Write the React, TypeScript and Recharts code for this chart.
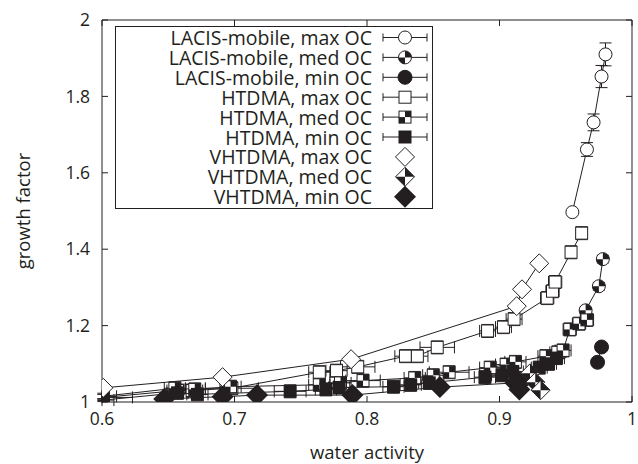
import React from 'react';
import { ScatterChart, Scatter, XAxis, YAxis, ErrorBar, Legend } from 'recharts';

type P = [number, number, number | number[], number]; // x, y, xErr, yErr

const xTicks = [0.6, 0.7, 0.8, 0.9, 1];
const yTicks = [1, 1.2, 1.4, 1.6, 1.8, 2];

const lacisMax: P[] = [[0.955, 1.497, 0, 0.004], [0.966, 1.661, 0, 0.018], [0.971, 1.732, 0, 0.022], [0.977, 1.852, 0, 0.029], [0.980, 1.910, 0, 0.03]];
const lacisMed: P[] = [[0.965, 1.240, 0, 0.008], [0.975, 1.303, 0, 0.01], [0.978, 1.374, 0, 0.01]];
const lacisMin: P[] = [[0.974, 1.104, 0, 0], [0.977, 1.144, 0, 0]];
const htdmaMax: P[] = [[0.601, 1.012, [0.001, 0.022], 0.008], [0.657, 1.03, 0.008, 0.017], [0.668, 1.03, 0.008, 0.017], [0.698, 1.036, 0.02, 0.017], [0.764, 1.078, 0.008, 0.017], [0.777, 1.082, 0.008, 0.017], [0.793, 1.092, 0.013, 0.017], [0.829, 1.12, 0.008, 0.017], [0.838, 1.12, 0.008, 0.017], [0.853, 1.143, 0.013, 0.017], [0.891, 1.186, 0.006, 0.017], [0.903, 1.196, 0.006, 0.017], [0.911, 1.217, 0.006, 0.017], [0.936, 1.272, 0.005, 0.017], [0.94, 1.29, 0.005, 0.017], [0.942, 1.314, 0.005, 0.017], [0.954, 1.392, 0.004, 0.017], [0.962, 1.442, 0.004, 0.017]];
const htdmaMed: P[] = [[0.601, 1.015, [0.001, 0.01], 0.008], [0.655, 1.036, 0.008, 0.017], [0.67, 1.033, 0.008, 0.017], [0.697, 1.04, 0.008, 0.017], [0.764, 1.045, 0.008, 0.017], [0.78, 1.05, 0.008, 0.017], [0.797, 1.056, 0.013, 0.017], [0.836, 1.063, 0.008, 0.017], [0.85, 1.07, 0.008, 0.017], [0.862, 1.078, 0.015, 0.017], [0.893, 1.09, 0.008, 0.017], [0.905, 1.098, 0.008, 0.017], [0.912, 1.105, 0.008, 0.017], [0.935, 1.12, 0.006, 0.017], [0.944, 1.13, 0.006, 0.017], [0.948, 1.135, 0.006, 0.017], [0.953, 1.19, 0.005, 0.017], [0.96, 1.205, 0.005, 0.017], [0.966, 1.215, 0.005, 0.017]];
const htdmaMin: P[] = [[0.601, 1.005, [0.001, 0.008], 0.004], [0.657, 1.024, 0.008, 0.017], [0.672, 1.02, 0.008, 0.017], [0.742, 1.028, 0.012, 0.017], [0.769, 1.033, 0.008, 0.017], [0.779, 1.038, 0.008, 0.017], [0.82, 1.04, 0.008, 0.017], [0.833, 1.045, 0.008, 0.017], [0.847, 1.05, 0.008, 0.017], [0.889, 1.065, 0.008, 0.017], [0.902, 1.07, 0.008, 0.017], [0.91, 1.08, 0.008, 0.017], [0.917, 1.06, 0.008, 0.017], [0.93, 1.09, 0.006, 0.017], [0.937, 1.1, 0.006, 0.017], [0.943, 1.115, 0.006, 0.017]];
const vhtdmaMax: P[] = [[0.601, 1.037, 0, 0], [0.691, 1.065, 0, 0], [0.788, 1.112, 0, 0], [0.913, 1.251, 0, 0], [0.917, 1.295, 0, 0], [0.93, 1.363, 0, 0]];
const vhtdmaMed: P[] = [[0.923, 1.075, 0, 0], [0.927, 1.052, 0, 0], [0.931, 1.031, 0, 0]];
const vhtdmaMin: P[] = [[0.647, 1.008, 0, 0], [0.691, 1.014, 0, 0], [0.717, 1.018, 0, 0], [0.789, 1.018, 0, 0], [0.855, 1.039, 0, 0], [0.912, 1.05, 0, 0], [0.915, 1.033, 0, 0]];

const seriesLabels = [
  'LACIS-mobile, max OC', 'LACIS-mobile, med OC', 'LACIS-mobile, min OC',
  'HTDMA, max OC', 'HTDMA, med OC', 'HTDMA, min OC',
  'VHTDMA, max OC', 'VHTDMA, med OC', 'VHTDMA, min OC',
];
const seriesKinds = ['circleOpen', 'circleMed', 'circleFull', 'squareOpen', 'squareMed', 'squareFull', 'diamondOpen', 'diamondMed', 'diamondFull'];
const seriesData = [lacisMax, lacisMed, lacisMin, htdmaMax, htdmaMed, htdmaMin, vhtdmaMax, vhtdmaMed, vhtdmaMin];
const seriesHasLine = [true, true, true, true, true, true, true, false, true];
const seriesHasErr = [true, true, true, true, true, true, false, false, false];

const FONT = "'Open Sans', sans-serif";
const INK = '#231f20';

function Marker({ kind, cx, cy }: { kind: string; cx: number; cy: number }) {
  const s = 1;
  if (kind.startsWith('circle')) {
    const r = 6.5;
    if (kind === 'circleFull') return <circle cx={cx} cy={cy} r={7} fill={INK} stroke={INK} />;
    return (
      <g>
        <circle cx={cx} cy={cy} r={r} fill="#fff" stroke={INK} strokeWidth={s} />
        {kind === 'circleMed' && (
          <>
            <path d={`M${cx},${cy} L${cx},${cy - r} A${r},${r} 0 0 1 ${cx + r},${cy} Z`} fill={INK} />
            <path d={`M${cx},${cy} L${cx},${cy + r} A${r},${r} 0 0 1 ${cx - r},${cy} Z`} fill={INK} />
          </>
        )}
      </g>
    );
  }
  if (kind.startsWith('square')) {
    const h = 6;
    if (kind === 'squareFull') return <rect x={cx - 6.5} y={cy - 6.5} width={13} height={13} fill={INK} />;
    return (
      <g>
        <rect x={cx - h} y={cy - h} width={2 * h} height={2 * h} fill="#fff" stroke={INK} strokeWidth={s} />
        {kind === 'squareMed' && (
          <>
            <rect x={cx} y={cy - h} width={h} height={h} fill={INK} />
            <rect x={cx - h} y={cy} width={h} height={h} fill={INK} />
          </>
        )}
      </g>
    );
  }
  const d = kind === 'diamondFull' ? 11 : 9.5;
  const poly = `${cx},${cy - d} ${cx + d},${cy} ${cx},${cy + d} ${cx - d},${cy}`;
  if (kind === 'diamondFull') return <polygon points={poly} fill={INK} />;
  return (
    <g>
      <polygon points={poly} fill="#fff" stroke={INK} strokeWidth={s} />
      {kind === 'diamondMed' && (
        <>
          <polygon points={`${cx},${cy} ${cx},${cy - d} ${cx + d},${cy}`} fill={INK} />
          <polygon points={`${cx},${cy} ${cx},${cy + d} ${cx - d},${cy}`} fill={INK} />
        </>
      )}
    </g>
  );
}

function LegendBox() {
  const W = 318;
  const H = 183;
  return (
    <svg width={W} height={H} style={{ display: 'block', overflow: 'visible' }}>
      <rect x={0.5} y={0.5} width={W - 1} height={H - 1} fill="#fff" stroke={INK} strokeWidth={1} />
      {seriesLabels.map((lab, i) => {
        const y = 11.5 + i * 19.9;
        return (
          <g key={lab}>
            <text x={257} y={y} textAnchor="end" dominantBaseline="central" fontFamily={FONT} fontSize={19.5} fill={INK}>{lab}</text>
            {seriesHasErr[i] && (
              <g stroke={INK} strokeWidth={1}>
                <line x1={268} x2={312} y1={y} y2={y} />
                <line x1={268} x2={268} y1={y - 4} y2={y + 4} />
                <line x1={312} x2={312} y1={y - 4} y2={y + 4} />
              </g>
            )}
            <Marker kind={seriesKinds[i]} cx={290} cy={y} />
          </g>
        );
      })}
    </svg>
  );
}

const toRows = (arr: P[]) => arr.map(([x, y, ex, ey]) => ({ x, y, ex, ey }));

export default function App() {
  return (
    <div style={{ position: 'absolute', left: 0, top: 0, background: '#fff' }}>
      <ScatterChart width={638} height={464} margin={{ top: 19, right: 5, bottom: 0, left: 0 }}>
        <XAxis
          xAxisId="b" type="number" dataKey="x" domain={[0.6, 1]} ticks={xTicks} allowDataOverflow
          tickFormatter={(v: number) => String(v)} tickSize={-6} tickMargin={17} height={62}
          stroke={INK} tick={{ fill: INK, fontFamily: FONT, fontSize: 17.5 }}
          label={{ value: 'water activity', position: 'insideBottom', offset: 5, fill: INK, fontFamily: FONT, fontSize: 18.5 }}
        />
        <XAxis
          xAxisId="t" orientation="top" type="number" dataKey="x" domain={[0.6, 1]} ticks={xTicks} allowDataOverflow
          tickFormatter={() => ''} tickSize={-6} height={1} stroke={INK}
        />
        <YAxis
          yAxisId="l" type="number" dataKey="y" domain={[1, 2]} ticks={yTicks} allowDataOverflow
          tickFormatter={(v: number) => String(v)} tickSize={-6} tickMargin={18} width={102}
          stroke={INK} tick={{ fill: INK, fontFamily: FONT, fontSize: 17.5 }}
          label={{
            content: (p: any) => {
              const vb = p.viewBox || { x: 0, y: 20, height: 382 };
              const x = vb.x + 22;
              const y = vb.y + vb.height / 2;
              return (
                <text x={x} y={y} transform={`rotate(-90 ${x} ${y})`} textAnchor="middle" dominantBaseline="central" fontFamily={FONT} fontSize={18.5} fill={INK}>growth factor</text>
              );
            },
          }}
        />
        <YAxis
          yAxisId="r" orientation="right" type="number" dataKey="y" domain={[1, 2]} ticks={yTicks} allowDataOverflow
          tickFormatter={() => ''} tickSize={-6} width={1} stroke={INK}
        />
        <Legend verticalAlign="middle" align="center" layout="horizontal" content={() => <LegendBox />} wrapperStyle={{ left: 115, top: 26, width: 318, height: 183 }} />
        {seriesData.map((arr, i) => (
          <Scatter
            key={seriesLabels[i]}
            name={seriesLabels[i]}
            data={toRows(arr)}
            xAxisId="b"
            yAxisId="l"
            isAnimationActive={false}
            line={seriesHasLine[i] ? { stroke: INK, strokeWidth: 1 } : false}
            lineJointType="linear"
            shape={(p: any) => <Marker kind={seriesKinds[i]} cx={p.cx} cy={p.cy} />}
          >
            {seriesHasErr[i] && <ErrorBar dataKey="ey" direction="y" width={6} stroke={INK} strokeWidth={1} />}
            {seriesHasErr[i] && <ErrorBar dataKey="ex" direction="x" width={6} stroke={INK} strokeWidth={1} />}
          </Scatter>
        ))}
      </ScatterChart>
    </div>
  );
}
